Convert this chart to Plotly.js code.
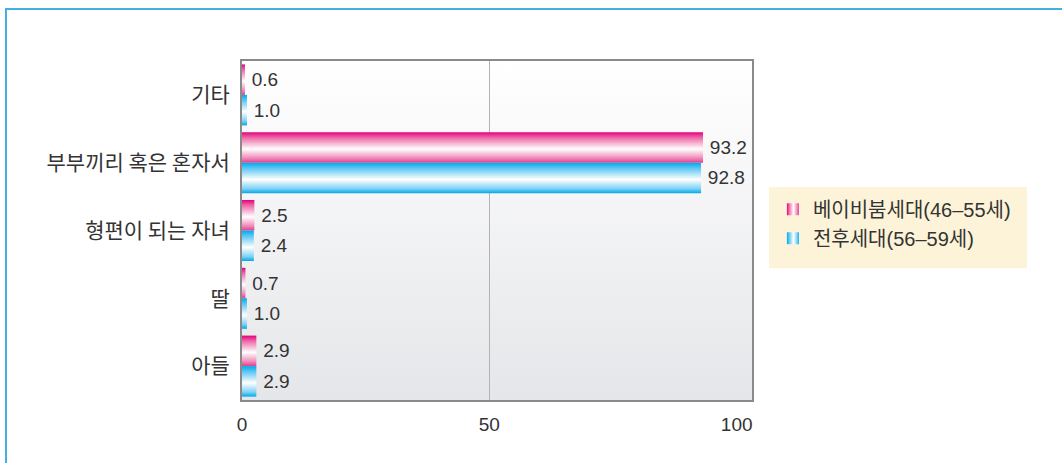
<!DOCTYPE html>
<html><head><meta charset="utf-8">
<script src="https://cdn.plot.ly/plotly-3.0.1.min.js"></script>
<style>
html,body{margin:0;padding:0;background:#fff;overflow:hidden}
#chart{position:absolute;left:0;top:0;width:1062px;height:463px}
#frame{position:absolute;left:5px;top:8px;width:1100px;height:500px;border-top:2px solid #45aee2;border-left:2px solid #45aee2;box-sizing:border-box;pointer-events:none}
</style>
</head><body>
<div id="chart"></div><div id="frame"></div>
<script>
const categories = ['기타', '부부끼리 혹은 혼자서', '형편이 되는 자녀', '딸', '아들'];
const boomerValues = [0.6, 93.2, 2.5, 0.7, 2.9];
const postwarValues = [1.0, 92.8, 2.4, 1.0, 2.9];
const seriesNames = ['베이비붐세대(46–55세)', '전후세대(56–59세)'];
const xTickVals = [0, 50, 100];
const xTickText = ['0', '50', '100'];

const FONT = 'Liberation Sans, Arial, "Noto Sans CJK KR", sans-serif';
const TXT = '#333333';

function barTrace(name, vals, color) {
  return {
    type: 'bar', orientation: 'h', name: name,
    x: vals, y: categories,
    marker: {color: color, line: {width: 0}},
    text: vals.map(v => '\u2009' + v.toFixed(1)),
    textposition: 'outside', cliponaxis: false, constraintext: 'none',
    textfont: {family: FONT, size: 19, color: TXT},
    hoverinfo: 'skip'
  };
}

const data = [
  barTrace(seriesNames[0], boomerValues, '#e4007f'),
  barTrace(seriesNames[1], postwarValues, '#00aeef')
];

const layout = {
  width: 1062, height: 463,
  margin: {l: 242, r: 310, t: 61, b: 63, pad: 0},
  paper_bgcolor: 'rgba(0,0,0,0)',
  plot_bgcolor: '#f2f3f4',
  barmode: 'group', bargap: 0.1, bargroupgap: 0,
  showlegend: true,
  font: {family: FONT, color: TXT},
  xaxis: {
    range: [0, 103.1], tickvals: xTickVals, ticktext: xTickText,
    showgrid: false, zeroline: false,
    showline: true, mirror: true, linecolor: '#8a8a8a', linewidth: 2,
    ticks: '', ticklabelstandoff: 6,
    tickfont: {family: FONT, size: 19, color: TXT},
    minor: {tickvals: [50], showgrid: true, gridcolor: '#b3b3b3', gridwidth: 1.5, ticks: ''},
    fixedrange: true
  },
  yaxis: {
    type: 'category', autorange: 'reversed',
    showgrid: false, zeroline: false,
    showline: true, mirror: true, linecolor: '#8a8a8a', linewidth: 2,
    ticks: '', ticklabelstandoff: 6,
    tickfont: {family: '"Noto Sans CJK KR", sans-serif', size: 21, color: TXT},
    fixedrange: true
  },
  legend: {
    x: 1.041, xanchor: 'left', y: 0.62, yanchor: 'top',
    bgcolor: 'rgba(0,0,0,0)', borderwidth: 0,
    font: {family: 'Liberation Sans, Arial, "Noto Sans CJK KR", sans-serif', size: 20, color: TXT},
    itemclick: false, itemdoubleclick: false, tracegroupgap: 0
  },
  shapes: [{
    type: 'rect', xref: 'paper', yref: 'paper', layer: 'below',
    x0: 1.0333, x1: 1.539, y0: 0.389, y1: 0.628,
    fillcolor: '#fdf3d8', line: {width: 0}
  }]
};

function addGrad(defs, id, vertical, stops) {
  const ns = 'http://www.w3.org/2000/svg';
  const g = document.createElementNS(ns, 'linearGradient');
  g.setAttribute('id', id);
  g.setAttribute('x1', '0'); g.setAttribute('y1', '0');
  g.setAttribute('x2', vertical ? '0' : '1'); g.setAttribute('y2', vertical ? '1' : '0');
  stops.forEach(s => {
    const st = document.createElementNS(ns, 'stop');
    st.setAttribute('offset', s[0]);
    st.setAttribute('stop-color', s[1]);
    g.appendChild(st);
  });
  defs.appendChild(g);
}

Plotly.newPlot('chart', data, layout, {displayModeBar: false, staticPlot: true}).then(gd => {
  const svg = gd.querySelector('svg.main-svg');
  let defs = svg.querySelector('defs');
  if (!defs) { defs = document.createElementNS('http://www.w3.org/2000/svg', 'defs'); svg.insertBefore(defs, svg.firstChild); }
  const pink = [['0', '#e4007f'], ['0.18', '#ee6aa8'], ['0.55', '#ffffff'], ['0.85', '#f08ab9'], ['1', '#e53d8f']];
  const blue = [['0', '#00a9ec'], ['0.18', '#5cc6f2'], ['0.55', '#ffffff'], ['0.85', '#7fd2f5'], ['1', '#00a9ec']];
  addGrad(defs, 'gPinkV', true, pink);
  addGrad(defs, 'gBlueV', true, blue);
  addGrad(defs, 'gPinkH', false, pink);
  addGrad(defs, 'gBlueH', false, blue);
  addGrad(defs, 'gBg', true, [['0', '#ffffff'], ['1', '#e5e6e9']]);
  const ids = ['gPinkV', 'gBlueV'];
  gd.querySelectorAll('.barlayer .trace').forEach((tr, i) => {
    tr.querySelectorAll('.point path').forEach(p => { p.style.fill = 'url(#' + ids[i] + ')'; });
  });
  const lids = ['gPinkH', 'gBlueH'];
  gd.querySelectorAll('.legend .traces').forEach((tr, i) => {
    tr.querySelectorAll('.legendpoints path').forEach(p => { p.style.fill = 'url(#' + lids[i] + ')'; });
  });
  const bg = gd.querySelector('.bglayer rect.bg');
  if (bg) bg.style.fill = 'url(#gBg)';
});
</script>
</body></html>
